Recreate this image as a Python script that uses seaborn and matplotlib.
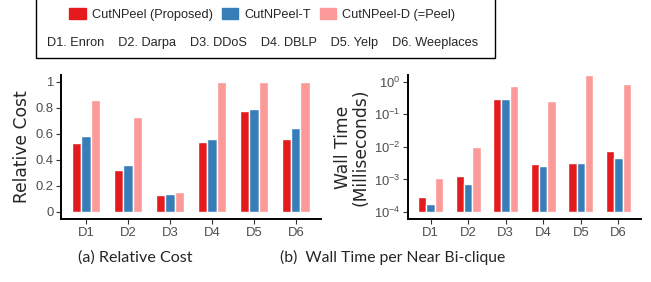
import pandas as pd
import matplotlib
matplotlib.use("Agg")
import matplotlib.pyplot as plt
import matplotlib.patches as mpatches
import seaborn as sns

# Dados
datasets = ["D1", "D2", "D3", "D4", "D5", "D6"]
dataset_names = ["D1. Enron", "D2. Darpa", "D3. DDoS", "D4. DBLP", "D5. Yelp", "D6. Weeplaces"]
methods = ["CutNPeel (Proposed)", "CutNPeel-T", "CutNPeel-D (=Peel)"]

cost_cutnpeel = [0.527, 0.325, 0.133, 0.540, 0.775, 0.560]
cost_t = [0.583, 0.360, 0.138, 0.560, 0.788, 0.645]
cost_d = [0.862, 0.727, 0.156, 0.995, 1.0, 1.0]

time_cutnpeel = [2.8e-4, 1.27e-3, 0.286, 2.9e-3, 3.1e-3, 7.4e-3]
time_t = [1.76e-4, 7.2e-4, 0.286, 2.63e-3, 3.1e-3, 4.6e-3]
time_d = [1.07e-3, 9.8e-3, 0.73, 0.248, 1.58, 0.83]

colors = ["#E41A1C", "#377EB8", "#FB9A99"]


def make_df(a, b, c):
    rows = []
    for vals, m in zip([a, b, c], methods):
        for d, v in zip(datasets, vals):
            rows.append({"dataset": d, "method": m, "value": v})
    return pd.DataFrame(rows)


df_cost = make_df(cost_cutnpeel, cost_t, cost_d)
df_time = make_df(time_cutnpeel, time_t, time_d)

sns.set_style("white")
plt.rcParams["font.family"] = ["Liberation Sans", "DejaVu Sans"]

fig = plt.figure(figsize=(6.51, 2.82), dpi=100)
ax1 = fig.add_axes([0.0937, 0.2234, 0.3993, 0.5106])
ax2 = fig.add_axes([0.6267, 0.2234, 0.3579, 0.5106])

sns.barplot(data=df_cost, x="dataset", y="value", hue="method", palette=colors,
            width=0.67, gap=0, ax=ax1, legend=False, errorbar=None, saturation=1)
sns.barplot(data=df_time, x="dataset", y="value", hue="method", palette=colors,
            width=0.67, gap=0, ax=ax2, legend=False, errorbar=None, saturation=1)

ax1.set_ylim(-0.054, 1.05)
ax1.set_yticks([0, 0.2, 0.4, 0.6, 0.8, 1])
ax1.set_yticklabels(["0", "0.2", "0.4", "0.6", "0.8", "1"])
ax1.set_ylabel("Relative Cost", fontsize=12.3, labelpad=3, family="DejaVu Sans")

# escala log com barras partindo de 1e-4
base = 1e-4
ax2.set_yscale("log")
for p in ax2.patches:
    top = p.get_y() + p.get_height()
    p.set_y(base)
    p.set_height(top - base)
ax2.set_ylim(10 ** -4.215, 10 ** 0.205)
ax2.set_yticks([1e-4, 1e-3, 1e-2, 1e-1, 1e0])
ax2.minorticks_off()
ax2.set_ylabel("Wall Time\n(Milliseconds)", fontsize=12.3, labelpad=3, linespacing=0.95,
               family="DejaVu Sans")

for ax in [ax1, ax2]:
    ax.set_xlim(-0.6, 5.6)
    ax.set_xlabel("")
    for s in ["top", "right"]:
        ax.spines[s].set_visible(False)
    for s in ["left", "bottom"]:
        ax.spines[s].set_color("black")
        ax.spines[s].set_linewidth(1.4)
    ax.tick_params(axis="both", which="major", length=3.5, width=0.8, color="#333333",
                   labelcolor="#4D4D4D", labelsize=9.4, pad=2, left=True, bottom=True)

# Legenda
handles = [mpatches.Patch(color=c, label=m) for c, m in zip(colors, methods)]
fig.legend(handles=handles, loc="center", bbox_to_anchor=(0.403, 0.9486), ncol=3,
           frameon=False, fontsize=9.2, handlelength=1.3, handleheight=0.95,
           handletextpad=0.45, columnspacing=0.7, borderpad=0)
fig.text(0.404, 0.846, "    ".join(dataset_names), ha="center", va="center", fontsize=9.2)
fig.patches.append(mpatches.Rectangle((0.0553, 0.794), 0.7047, 0.3, transform=fig.transFigure,
                                      fill=False, edgecolor="black", linewidth=1.0,
                                      clip_on=False))

# Legendas das subfiguras
fig.text(0.208, 0.088, "(a) Relative Cost", ha="center", va="center", fontsize=11.6,
         family=["Lato", "DejaVu Sans"])
fig.text(0.603, 0.088, "(b)  Wall Time per Near Bi-clique", ha="center", va="center",
         fontsize=11.3, family=["Lato", "DejaVu Sans"])

fig.savefig("out.png", dpi=100)
